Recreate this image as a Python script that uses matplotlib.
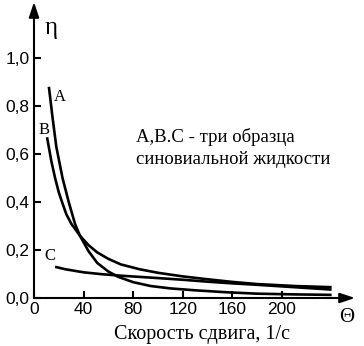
import matplotlib
matplotlib.use("Agg")
import matplotlib.pyplot as plt

# Data
a_x = [12, 15, 18, 23, 28, 33, 37, 44, 51, 60, 68, 80, 94, 110, 130, 155, 180, 210, 240]
a_y = [0.88, 0.75, 0.63, 0.50, 0.40, 0.31, 0.26, 0.195, 0.146, 0.11, 0.088, 0.066, 0.05, 0.04, 0.032, 0.024, 0.018, 0.015, 0.013]
b_x = [10.5, 14, 17, 20, 22.6, 26, 30, 37, 44, 51, 60, 70, 85, 100, 120, 140, 160, 180, 210, 240]
b_y = [0.67, 0.57, 0.50, 0.44, 0.40, 0.35, 0.31, 0.26, 0.22, 0.19, 0.163, 0.14, 0.12, 0.105, 0.09, 0.078, 0.067, 0.058, 0.05, 0.045]
c_x = [17, 25, 40, 55, 70, 85, 100, 120, 140, 160, 180, 210, 240]
c_y = [0.13, 0.12, 0.107, 0.099, 0.093, 0.088, 0.083, 0.076, 0.068, 0.061, 0.055, 0.045, 0.035]

x_ticks = [0, 40, 80, 120, 160, 200]
y_ticks = [0.0, 0.2, 0.4, 0.6, 0.8, 1.0]
y_tick_labels = ["0,0", "0,2", "0,4", "0,6", "0,8", "1,0"]

W, H = 364, 346
fig = plt.figure(figsize=(W / 100, H / 100), dpi=100)
x0, y0 = 34, 298
x1, y1 = 355, 2
ax = fig.add_axes([x0 / W, (H - y0) / H, (x1 - x0) / W, (y0 - y1) / H])
ax.set_xlim(0, (x1 - x0) / 1.24)
ax.set_ylim(0, (y0 - y1) / 240)
for s in ax.spines.values():
    s.set_visible(False)

lw = 1.9
ax.plot(a_x, a_y, color="black", lw=lw, solid_capstyle="butt")
ax.plot(b_x, b_y, color="black", lw=lw, solid_capstyle="butt")
ax.plot(c_x, c_y, color="black", lw=lw, solid_capstyle="butt")

# axes with arrows
ax.annotate("", xy=(1.0, 0), xytext=(0, 0), xycoords="axes fraction",
            arrowprops=dict(arrowstyle="-|>,head_length=0.9,head_width=0.3", color="black", lw=1.5,
                            shrinkA=0, shrinkB=0), annotation_clip=False)
ax.annotate("", xy=(0, 1.0), xytext=(0, 0), xycoords="axes fraction",
            arrowprops=dict(arrowstyle="-|>,head_length=0.9,head_width=0.3", color="black", lw=1.5,
                            shrinkA=0, shrinkB=0), annotation_clip=False)

ax.set_xticks(x_ticks)
ax.set_yticks(y_ticks)
ax.set_yticklabels(y_tick_labels)
ax.tick_params(direction="in", length=5, width=1.5, colors="black",
               labelsize=12.5, pad=3)
for lab in ax.get_xticklabels() + ax.get_yticklabels():
    lab.set_family("Liberation Sans")

serif = "Liberation Serif"
ax.text(51 / W, 1 - 28 / H, "η", transform=fig.transFigure, fontsize=18,
        family=serif, ha="center", va="center")
ax.text(347 / W, 1 - 318 / H, "Θ", transform=fig.transFigure, fontsize=15,
        family=serif, ha="center", va="center")
ax.text(202 / W, 1 - 335 / H, "Скорость сдвига, 1/с", transform=fig.transFigure,
        fontsize=14.5, family=serif, ha="center", va="center")
ax.text(60 / W, 1 - 97 / H, "A", transform=fig.transFigure, fontsize=12,
        family=serif, ha="center", va="center")
ax.text(44 / W, 1 - 130 / H, "B", transform=fig.transFigure, fontsize=12,
        family=serif, ha="center", va="center")
ax.text(50 / W, 1 - 256 / H, "C", transform=fig.transFigure, fontsize=12,
        family=serif, ha="center", va="center")
ax.text(136 / W, 1 - 137 / H, "A,B.C - три образца", transform=fig.transFigure,
        fontsize=13.5, family=serif, ha="left", va="center")
ax.text(136 / W, 1 - 160 / H, "синовиальной жидкости", transform=fig.transFigure,
        fontsize=13.5, family=serif, ha="left", va="center")

fig.savefig("out.png", dpi=100)
